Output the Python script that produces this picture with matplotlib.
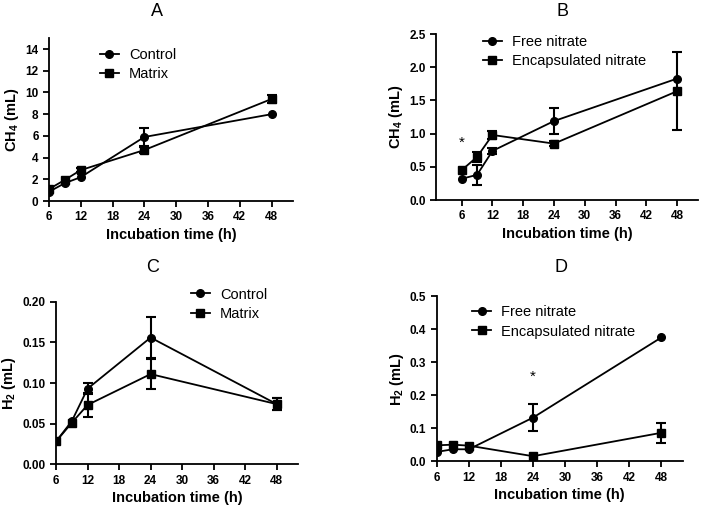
import numpy as np
import matplotlib
matplotlib.use("Agg")
import matplotlib.pyplot as plt

plt.rcParams['font.family'] = ['Liberation Sans', 'DejaVu Sans']
plt.rcParams['mathtext.fontset'] = 'custom'
plt.rcParams['mathtext.rm'] = 'Liberation Sans'
plt.rcParams['mathtext.bf'] = 'Liberation Sans:bold'

nan = np.nan  # error bar hidden behind the marker

hours = [6, 9, 12, 24, 48]
xticks = [6, 12, 18, 24, 30, 36, 42, 48]

# panel A - CH4, control vs matrix
a_control = [0.85, 1.65, 2.2, 5.9, 8.0]
a_control_err = [nan, nan, nan, 0.8, nan]
a_matrix = [1.1, 1.95, 2.85, 4.7, 9.4]
a_matrix_err = [nan, nan, 0.2, 0.3, 0.4]

# panel B - CH4, free vs encapsulated nitrate
b_free = [0.32, 0.38, 0.74, 1.19, 1.83]
b_free_err = [nan, 0.15, 0.05, 0.19, nan]
b_encap = [0.45, 0.65, 0.98, 0.85, 1.64]
b_encap_err = [nan, 0.08, 0.06, 0.04, 0.59]

# panel C - H2, control vs matrix
c_control = [0.028, 0.053, 0.093, 0.156, 0.074]
c_control_err = [nan, nan, 0.007, 0.025, 0.007]
c_matrix = [0.028, 0.051, 0.073, 0.111, 0.074]
c_matrix_err = [nan, nan, 0.015, 0.018, 0.007]

# panel D - H2, free vs encapsulated nitrate
d_free = [0.028, 0.036, 0.036, 0.132, 0.375]
d_free_err = [nan, nan, nan, 0.04, nan]
d_encap = [0.048, 0.05, 0.047, 0.015, 0.086]
d_encap_err = [nan, nan, nan, nan, 0.03]

fig = plt.figure(figsize=(7.09, 5.09), dpi=100)


def panel(rect, title, s1, e1, s2, e2, lab1, lab2, ylabel, ylim, yticks, fmt, xlim, leg_xy, title_xy):
    ax = fig.add_axes(rect)
    ax.errorbar(hours, s1, yerr=e1, color='black', marker='o', markersize=5.5,
                linewidth=1.3, capsize=3.5, elinewidth=1.5, capthick=1.5, label=lab1)
    ax.errorbar(hours, s2, yerr=e2, color='black', marker='s', markersize=5.5,
                linewidth=1.3, capsize=3.5, elinewidth=1.5, capthick=1.5, label=lab2)
    ax.set_xlim(*xlim)
    ax.set_ylim(*ylim)
    ax.set_xticks(xticks)
    ax.set_yticks(yticks)
    ax.set_yticklabels([fmt.format(v) for v in yticks])
    for s in ['top', 'right']:
        ax.spines[s].set_visible(False)
    for s in ['left', 'bottom']:
        ax.spines[s].set_linewidth(1.3)
    ax.tick_params(direction='out', length=4, width=1.3, labelsize=8.5)
    for t in ax.get_xticklabels() + ax.get_yticklabels():
        t.set_fontweight('bold')
    ax.set_xlabel('Incubation time (h)', fontsize=10.5, fontweight='bold', labelpad=3)
    ax.set_ylabel(ylabel, fontsize=10.5, fontweight='bold', labelpad=3)
    handles, labels = ax.get_legend_handles_labels()
    handles = [h[0] for h in handles]
    ax.legend(handles, labels, loc='upper left', bbox_to_anchor=leg_xy,
              bbox_transform=fig.transFigure, frameon=False, fontsize=10.5,
              borderpad=0, borderaxespad=0, handlelength=1.3, handletextpad=0.7,
              labelspacing=0.35)
    fig.text(title_xy[0], title_xy[1], title, fontsize=13, ha='center', va='center')
    return ax


ax_a = panel([0.069, 0.605, 0.344, 0.32], 'A', a_control, a_control_err, a_matrix, a_matrix_err,
             'Control', 'Matrix', r'CH$_\mathbf{4}$ (mL)', (0, 15), [0, 2, 4, 6, 8, 10, 12, 14], '{:g}',
             (6, 52), (0.141, 0.905), (157 / 709, 1 - 12 / 509))
ax_b = panel([0.615, 0.607, 0.369, 0.326], 'B', b_free, b_free_err, b_encap, b_encap_err,
             'Free nitrate', 'Encapsulated nitrate', r'CH$_\mathbf{4}$ (mL)', (0, 2.5),
             [0, 0.5, 1.0, 1.5, 2.0, 2.5], '{:.1f}', (1, 52), (0.681, 0.932), (562 / 709, 1 - 12 / 509))
ax_c = panel([0.079, 0.088, 0.341, 0.319], 'C', c_control, c_control_err, c_matrix, c_matrix_err,
             'Control', 'Matrix', r'H$_\mathbf{2}$ (mL)', (0, 0.2),
             [0, 0.05, 0.10, 0.15, 0.20], '{:.2f}', (6, 52), (0.269, 0.435), (153 / 709, 1 - 268 / 509))
ax_d = panel([0.616, 0.094, 0.347, 0.324], 'D', d_free, d_free_err, d_encap, d_encap_err,
             'Free nitrate', 'Encapsulated nitrate', r'H$_\mathbf{2}$ (mL)', (0, 0.5),
             [0, 0.1, 0.2, 0.3, 0.4, 0.5], '{:.1f}', (6, 52), (0.666, 0.400), (561 / 709, 1 - 268 / 509))

ax_b.text(6, 0.87, '*', fontsize=11, ha='center', va='center')
ax_d.text(24, 0.255, '*', fontsize=11, ha='center', va='center')

fig.savefig('out.png', dpi=100)
